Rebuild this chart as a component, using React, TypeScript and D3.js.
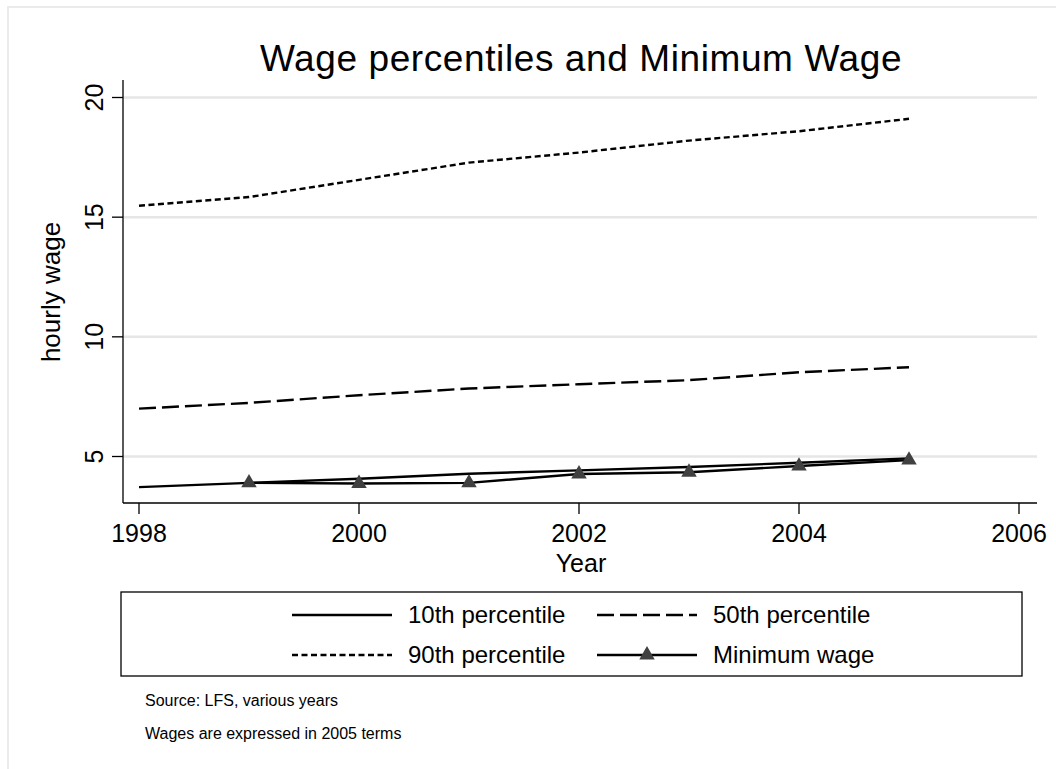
import React from "react";
import * as d3 from "d3";

const years = [1998, 1999, 2000, 2001, 2002, 2003, 2004, 2005];
const p10 = [3.72, 3.9, 4.07, 4.28, 4.42, 4.56, 4.74, 4.92];
const p50 = [7.0, 7.24, 7.56, 7.84, 8.02, 8.19, 8.52, 8.73];
const p90 = [15.48, 15.84, 16.56, 17.28, 17.7, 18.2, 18.59, 19.11];
const minWage: (number | null)[] = [null, 3.9, 3.87, 3.9, 4.27, 4.34, 4.6, 4.85];
const xTicks = [1998, 2000, 2002, 2004, 2006];
const yTicks = [5, 10, 15, 20];
const legendLabels = ["10th percentile", "50th percentile", "90th percentile", "Minimum wage"];
const notes = ["Source: LFS, various years", "Wages are expressed in 2005 terms"];

const W = 1056;
const H = 769;
const FONT = "'Liberation Sans', Arial, Helvetica, sans-serif";

export default function App() {
  const x = d3.scaleLinear().domain([1998, 2006]).range([139, 1019]);
  const y = d3.scaleLinear().domain([5, 20]).range([456.5, 97.5]);
  const left = 123, right = 1037, top = 80, bottom = 503;

  const mk = (vals: (number | null)[]) =>
    d3.line<number>()
      .defined((_, i) => vals[i] != null)
      .x((_, i) => x(years[i]))
      .y((_, i) => y(vals[i] as number))(years.map((_, i) => i)) || "";

  const tri = d3.symbol().type(d3.symbolTriangle).size(104)() || "";
  const lw = 2.4;

  const series = [
    { vals: p10, dash: undefined as string | undefined },
    { vals: p50, dash: "17 6" },
    { vals: p90, dash: "6 3.5" },
    { vals: minWage, dash: undefined as string | undefined },
  ];

  const legendPos = [
    { lx: 292, ly: 615 },
    { lx: 597, ly: 615 },
    { lx: 292, ly: 655 },
    { lx: 597, ly: 655 },
  ];

  return (
    <svg width={W} height={H} style={{ position: "absolute", left: 0, top: 0, background: "#fff" }} fontFamily={FONT}>
      <rect x={8} y={7} width={W + 20} height={H + 20} fill="#fff" stroke="#ebebeb" strokeWidth={2} />
      <text x={581} y={71} textAnchor="middle" fontSize={37} letterSpacing={0.6}>Wage percentiles and Minimum Wage</text>

      {yTicks.map((t) => (
        <g key={t}>
          <line x1={left} x2={right} y1={y(t)} y2={y(t)} stroke="#e6e6e6" strokeWidth={2.5} />
          <line x1={left - 11} x2={left} y1={y(t)} y2={y(t)} stroke="#000" strokeWidth={1.3} />
          <text transform={`translate(103,${y(t)}) rotate(-90)`} textAnchor="middle" fontSize={25}>{t}</text>
        </g>
      ))}
      <line x1={left} x2={left} y1={top} y2={bottom} stroke="#000" strokeWidth={1.3} />
      <line x1={left} x2={right} y1={bottom} y2={bottom} stroke="#000" strokeWidth={1.3} />
      {xTicks.map((t) => (
        <g key={t}>
          <line x1={x(t)} x2={x(t)} y1={bottom} y2={bottom + 11} stroke="#000" strokeWidth={1.3} />
          <text x={x(t)} y={542} textAnchor="middle" fontSize={25}>{t}</text>
        </g>
      ))}
      <text x={581} y={572} textAnchor="middle" fontSize={25}>Year</text>
      <text transform={`translate(60,292) rotate(-90)`} textAnchor="middle" fontSize={26}>hourly wage</text>

      {series.map((s, i) => (
        <path key={i} d={mk(s.vals)} fill="none" stroke="#000" strokeWidth={lw} strokeDasharray={s.dash} />
      ))}
      {minWage.map((v, i) =>
        v == null ? null : (
          <path key={i} d={tri} transform={`translate(${x(years[i])},${y(v)})`} fill="#404040" />
        )
      )}

      <rect x={121} y={592} width={901} height={84} fill="#fff" stroke="#000" strokeWidth={1.3} />
      {legendLabels.map((lab, i) => {
        const p = legendPos[i];
        return (
          <g key={lab}>
            <line x1={p.lx} x2={p.lx + 100} y1={p.ly} y2={p.ly} stroke="#000" strokeWidth={lw} strokeDasharray={series[i].dash} />
            {i === 3 && <path d={tri} transform={`translate(${p.lx + 50},${p.ly})`} fill="#404040" />}
            <text x={p.lx + 116} y={p.ly + 8} fontSize={24}>{lab}</text>
          </g>
        );
      })}

      {notes.map((n, i) => (
        <text key={n} x={145} y={706 + i * 33} fontSize={16}>{n}</text>
      ))}
    </svg>
  );
}
